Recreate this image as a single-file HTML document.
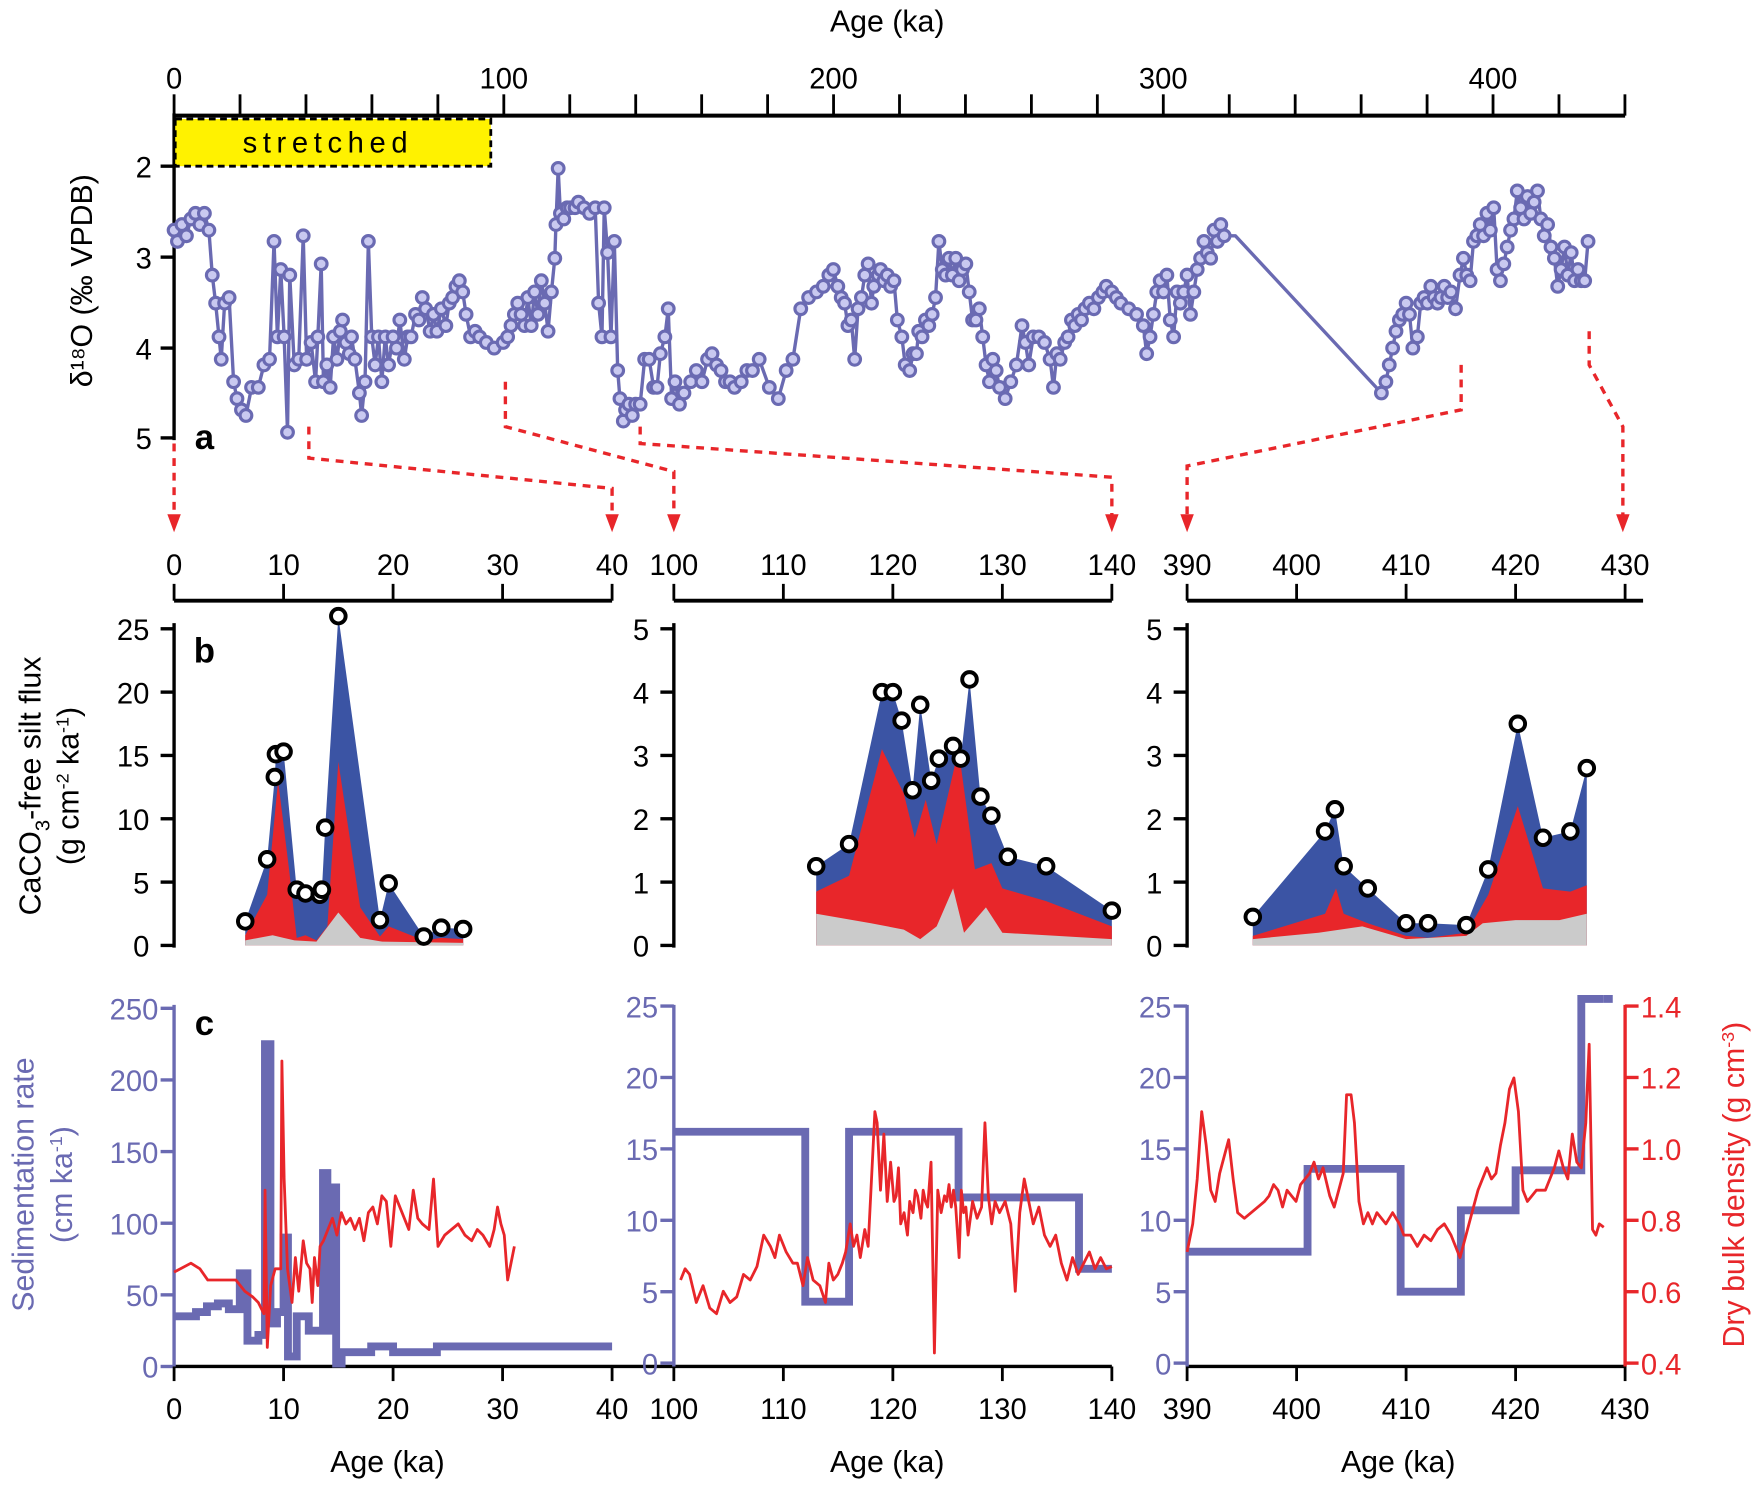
<!DOCTYPE html>
<html><head><meta charset="utf-8"><style>
html,body{margin:0;padding:0;background:#fff;}
svg{display:block;font-family:"Liberation Sans",sans-serif;}
</style></head><body>
<svg id="s" width="1761" height="1490" viewBox="0 0 1568 1327" preserveAspectRatio="none" xmlns="http://www.w3.org/2000/svg">
<rect x="0" y="0" width="1568" height="1327" fill="#fff"/>
<g id="g"></g>
</svg>
<script>
const NS="http://www.w3.org/2000/svg";const G=document.getElementById('g');
function el(t,a,txt){const e=document.createElementNS(NS,t);for(const k in a)e.setAttribute(k,a[k]);if(txt!==undefined)e.textContent=txt;G.appendChild(e);return e;}
function line(x1,y1,x2,y2,c,w,extra){return el('line',Object.assign({x1,y1,x2,y2,stroke:c,'stroke-width':w},extra||{}));}
function text(x,y,s,o){return el('text',Object.assign({x,y,'font-size':26,fill:'#000','text-anchor':'middle'},o||{}),s);}
function pl(pts,c,w,extra){return el('polyline',Object.assign({points:pts.map(p=>p.join(',')).join(' '),fill:'none',stroke:c,'stroke-width':w,'stroke-linejoin':'round'},extra||{}));}
function pg(pts,c){return el('polygon',{points:pts.map(p=>p.join(',')).join(' '),fill:c,stroke:'none'});}
const BLUE='#6a6ab2', RED='#e8262a';

// ===== Panel a =====
text(790,28,'Age (ka)',{'font-size':27});
line(155,103,1447,103,'#000',3.5);
for(let a=0;a<=440;a+=20){const x=155+2.936*a;line(x,84,x,103,'#000',2.5);}
[0,100,200,300,400].forEach(a=>text(155+2.936*a,79,String(a)));
line(155,101,155,392,'#000',3);
[[2,148],[3,229],[4,310],[5,390]].forEach(([v,y])=>{line(143,y,155,y,'#000',3);text(128,y+10,String(v),{'text-anchor':'middle'});});
el('rect',{x:156,y:106,width:281,height:42,fill:'#fff200',stroke:'#000','stroke-width':2.5,'stroke-dasharray':'6,4'});
text(292,136,'stretched',{'font-size':26,'letter-spacing':'5'});
text(182,400,'a',{'font-size':31,'font-weight':'bold'});
el('text',{x:0,y:0,'font-size':27,'text-anchor':'middle',transform:'translate(82,250) rotate(-90)'},'δ¹⁸O (‰ VPDB)');

const d18=`155,205 158,215 162,200 166,210 170,195 174,190 178,200 182,190 186,205 189,245 192,270 195,300 197,320 200,270 204,265 208,340 211,355 215,365 219,370 224,345 230,345 235,325 240,320 244,215 247,300 250,240 253,300 256,385 258,245 262,325 266,320 270,210 273,320 277,305 281,340 283,300 286,235 288,340 291,325 294,345 297,300 300,320 303,295 305,285 308,305 311,315 313,300 316,320 320,350 322,370 325,340 328,215 331,300 334,325 337,300 340,340 343,300 346,325 350,300 353,310 356,285 360,320 363,300 366,300 370,280 373,285 376,265 379,275 383,295 386,280 389,295 393,275 397,290 400,270 403,265 406,255 409,250 412,260 415,280 419,300 423,295 427,300 433,305 440,310 448,305 452,300 455,290 458,280 461,270 464,280 467,290 470,265 473,290 476,260 479,280 482,250 485,270 488,295 491,260 494,230 495,200 497,150 499,190 502,195 505,185 508,185 512,185 515,180 520,185 525,190 530,185 533,270 536,300 538,185 541,225 544,300 547,215 550,330 552,355 555,375 557,365 560,360 563,370 566,360 570,360 574,320 578,320 582,345 585,345 588,315 592,300 595,275 598,355 601,340 605,360 609,350 615,340 620,330 625,340 630,320 634,315 638,325 642,330 646,340 650,340 654,345 660,340 665,330 670,330 676,320 685,345 693,355 700,330 706,320 713,275 720,265 727,260 733,255 738,245 742,240 746,255 749,265 752,270 755,290 758,285 761,320 764,275 767,265 770,245 773,235 776,270 778,255 782,245 784,240 787,250 790,245 793,255 796,250 799,285 803,300 806,325 810,330 813,315 816,315 818,295 821,300 824,285 827,290 830,280 833,265 836,215 839,240 842,245 845,230 848,245 851,230 854,250 857,240 860,235 863,260 866,285 869,285 872,275 875,300 878,325 881,340 884,320 887,330 890,345 895,355 900,340 905,325 910,290 913,305 916,325 920,300 925,300 930,305 935,320 938,345 941,315 944,320 948,305 951,300 954,285 957,290 960,280 963,285 966,275 970,270 974,275 978,265 982,260 985,255 990,260 994,265 998,270 1005,275 1012,280 1018,290 1021,315 1024,300 1027,280 1030,260 1033,250 1036,260 1039,245 1042,285 1045,300 1048,260 1051,270 1054,260 1057,245 1060,280 1063,260 1066,240 1069,230 1072,215 1075,225 1078,230 1081,205 1084,215 1087,200 1090,210 1100,210 1230,350 1234,340 1237,325 1240,310 1243,295 1246,285 1249,280 1252,270 1255,280 1258,310 1262,300 1265,270 1268,265 1271,270 1274,255 1277,265 1280,270 1283,265 1286,255 1289,265 1292,260 1296,275 1300,245 1303,230 1306,245 1309,250 1312,215 1315,210 1318,200 1321,210 1324,190 1327,205 1330,185 1333,240 1336,250 1339,235 1342,220 1345,205 1348,195 1351,170 1354,185 1357,195 1360,175 1363,190 1366,180 1369,170 1372,195 1375,210 1378,200 1381,220 1384,230 1387,255 1390,240 1393,220 1396,245 1399,225 1402,250 1405,240 1408,250 1411,250 1414,215`.split(' ').map(s=>s.split(',').map(Number));
pl(d18,BLUE,3);
d18.forEach(([x,y])=>{if(x==1100&&y==210)return;el('circle',{cx:x,cy:y,r:5.2,fill:'#c9c9f0',stroke:BLUE,'stroke-width':2.8});});

const dash={'stroke-dasharray':'7,6',fill:'none',stroke:RED,'stroke-width':3};
[[[155,395],[155,462]],[[275,380],[275,408],[545,435],[545,462]],[[450,340],[450,380],[600,420],[600,462]],[[570,380],[570,395],[990,425],[990,462]],[[1301,325],[1301,365],[1057,415],[1057,462]],[[1415,295],[1415,325],[1445,380],[1445,462]]].forEach(p=>{
 el('polyline',Object.assign({points:p.map(q=>q.join(',')).join(' ')},dash));
 const [x,y]=p[p.length-1];el('polygon',{points:`${x-6},${y-4} ${x+6},${y-4} ${x},${y+12}`,fill:RED});
});

const segs=[{x0:155,a0:0},{x0:600,a0:100},{x0:1057,a0:390}];
const X=(s,a)=>segs[s].x0+9.75*(a-segs[s].a0);

segs.forEach((s,i)=>{
 const xe=i==2?1463:X(i,s.a0+40);
 line(s.x0,535,xe,535,'#000',3.5);
 for(let k=0;k<=40;k+=10){const x=X(i,s.a0+k);line(x,520,x,535,'#000',2.5);text(x,512,String(s.a0+k));}
});

const bY0=842;
const bScale=[11.28,56.4,56.4];
const Yb=(s,v)=>bY0-bScale[s]*v;
segs.forEach((s,i)=>{
 line(s.x0,555,s.x0,bY0+2,'#000',3);
 const mx=i==0?25:5,st=i==0?5:1;
 for(let v=0;v<=mx;v+=st){const y=Yb(i,v);line(s.x0-12,y,s.x0,y,'#000',3);text(s.x0-22,y+10,String(v),{'text-anchor':'end'});}
});
text(182,590,'b',{'font-size':31,'font-weight':'bold'});
el('text',{x:0,y:0,'font-size':27,'text-anchor':'middle',transform:'translate(36,700) rotate(-90)'}).innerHTML='CaCO<tspan font-size="18" dy="8">3</tspan><tspan dy="-8">-free silt flux</tspan>';
el('text',{x:0,y:0,'font-size':27,'text-anchor':'middle',transform:'translate(70,700) rotate(-90)'}).innerHTML='(g cm<tspan font-size="16" dy="-9">-2</tspan><tspan dy="9"> ka</tspan><tspan font-size="16" dy="-9">-1</tspan><tspan dy="9">)</tspan>';

function area(s,pts,col){const p=pts.map(([a,v])=>[X(s,a),Yb(s,v)]);p.push([X(s,pts[pts.length-1][0]),bY0]);p.unshift([X(s,pts[0][0]),bY0]);pg(p,col);}
const c1=[[6.5,1.9],[8.5,6.8],[9.2,13.3],[9.3,15.1],[10,15.3],[11.2,4.4],[12,4.1],[13.3,4.0],[13.5,4.4],[13.8,9.3],[15,26],[18.8,2.0],[19.6,4.9],[22.8,0.7],[24.4,1.4],[26.4,1.3]];
area(0,c1,'#3b54a4');
area(0,[[6.5,0.8],[8.5,4],[9.5,13],[10.5,6],[11.2,0.6],[12,0.8],[13,0.4],[14,1.5],[15,14.5],[17,3],[18.8,0.7],[19.6,1.5],[22.8,0.4],[24.4,0.6],[26.4,0.5]],RED);
area(0,[[6.5,0.4],[9,0.8],[10,0.6],[11,0.4],[13,0.3],[15,2.6],[17,0.6],[19,0.3],[26.4,0.2]],'#cbcbcb');
const c2=[[113,1.25],[116,1.6],[119,4.0],[120,4.0],[120.8,3.55],[121.8,2.45],[122.5,3.8],[123.5,2.6],[124.2,2.95],[125.5,3.15],[126.2,2.95],[127,4.2],[128,2.35],[129,2.05],[130.5,1.4],[134,1.25],[140,0.55]];
area(1,c2,'#3b54a4');
area(1,[[113,0.85],[116,1.1],[119,3.1],[121,2.4],[122,1.7],[123,2.3],[124,1.6],[126,3.1],[127.5,1.2],[129,1.3],[130,0.9],[134,0.7],[140,0.3]],RED);
area(1,[[113,0.5],[118,0.35],[121,0.25],[122.5,0.1],[124,0.3],[125.5,0.9],[126.5,0.2],[128.5,0.6],[130,0.2],[135,0.15],[140,0.1]],'#cbcbcb');
const c3=[[396,0.45],[402.6,1.8],[403.5,2.15],[404.3,1.25],[406.5,0.9],[410,0.35],[412,0.35],[415.5,0.32],[417.5,1.2],[420.2,3.5],[422.5,1.7],[425,1.8],[426.5,2.8]];
area(2,c3,'#3b54a4');
area(2,[[396,0.15],[402.6,0.5],[403.6,0.9],[404.3,0.5],[406.5,0.35],[410,0.15],[412,0.12],[415.5,0.2],[417.5,0.8],[420.2,2.2],[422.5,0.9],[425,0.85],[426.5,0.95]],RED);
area(2,[[396,0.1],[402,0.2],[406,0.3],[410,0.1],[415.5,0.15],[417,0.35],[420,0.4],[424,0.4],[426.5,0.5]],'#cbcbcb');
[[0,c1],[1,c2],[2,c3]].forEach(([s,c])=>c.forEach(([a,v])=>el('circle',{cx:X(s,a),cy:Yb(s,v),r:6.5,fill:'#fff',stroke:'#000','stroke-width':3.5})));

const Yc0=[1217,1214,1214],cS=[1.276,12.72,12.72];
const Yc=(s,v)=>Yc0[s]-cS[s]*v;
line(155,1217,990,1217,'#000',3);line(1057,1217,1447,1217,'#000',3);
segs.forEach((s,i)=>{
 line(s.x0,895,s.x0,1217,BLUE,3);
 const mx=i==0?250:25,st=i==0?50:5;
 for(let v=0;v<=mx;v+=st){const y=Yc(i,v);line(s.x0-12,y,s.x0,y,BLUE,3);text(s.x0-14,y+10,String(v),{'text-anchor':'end',fill:BLUE});}
 for(let k=0;k<=40;k+=10){const x=X(i,s.a0+k);line(x,1217,x,1230,'#000',2.5);text(x,1264,String(s.a0+k));}
});
[345,790,1245].forEach(x=>text(x,1311,'Age (ka)',{'font-size':27}));
line(1447,895,1447,1217,RED,3);
for(let d=0.4;d<=1.41;d+=0.2){const y=1214-(d-0.4)*318;line(1447,y,1459,y,RED,3);text(1461,y+10,d.toFixed(1),{'text-anchor':'start',fill:RED});}
text(182,922,'c',{'font-size':31,'font-weight':'bold'});
el('text',{x:0,y:0,'font-size':27,'text-anchor':'middle',fill:BLUE,transform:'translate(30,1055) rotate(-90)'},'Sedimentation rate');
el('text',{x:0,y:0,'font-size':27,'text-anchor':'middle',fill:BLUE,transform:'translate(64,1055) rotate(-90)'}).innerHTML='(cm ka<tspan font-size="16" dy="-9">-1</tspan><tspan dy="9">)</tspan>';
el('text',{x:0,y:0,'font-size':27,'text-anchor':'middle',fill:RED,transform:'translate(1553,1055) rotate(-90)'}).innerHTML='Dry bulk density  (g cm<tspan font-size="16" dy="-9">-3</tspan><tspan dy="9">)</tspan>';

function steps(s,arr){const p=[];arr.forEach(([a1,a2,v])=>{p.push([X(s,a1),Yc(s,v)]);p.push([X(s,a2),Yc(s,v)]);});pl(p,BLUE,7,{'stroke-linejoin':'miter'});}
steps(0,[[0,2,35],[2,3,38],[3,4,42],[4,5,44],[5,6,40],[6,6.7,65],[6.7,7.7,18],[7.7,8.3,22],[8.3,8.8,225],[8.8,9.4,30],[9.4,10,38],[10,10.4,90],[10.4,11.2,7],[11.2,12.3,35],[12.3,13.6,25],[13.6,14,135],[14,14.4,25],[14.4,14.8,125],[14.8,15.3,2],[15.3,18,10],[18,20,14],[20,23,10],[23,24,10],[24,31,14],[31,40,14]]);
steps(1,[[100,112,16.2],[112,116,4.3],[116,126,16.2],[126,137,11.6],[137,140,6.6]]);
steps(2,[[390,401,7.8],[401,409.5,13.6],[409.5,415,5],[415,420,10.7],[420,426,13.5],[426,428,25.5]]);
pl([[X(2,428),Yc(2,25.5)],[1436,Yc(2,25.5)]],BLUE,7);

const P=s=>s.split(' ').map(t=>t.split(',').map(Number));
pl(P('155,1133 170,1125 178,1130 185,1140 200,1140 210,1140 218,1150 225,1155 230,1160 235,1170 236,1060 238,1200 241,1145 245,1130 250,1130 251,945 253,1050 256,1130 260,1160 263,1120 266,1150 270,1105 273,1125 276,1130 278,1160 280,1120 283,1145 285,1110 288,1105 292,1095 296,1085 300,1100 304,1080 308,1090 312,1085 316,1095 320,1085 324,1105 328,1080 332,1075 336,1090 340,1065 344,1070 348,1110 352,1065 356,1075 360,1085 364,1095 368,1060 372,1085 376,1090 382,1095 386,1050 390,1110 396,1100 402,1095 408,1090 414,1100 420,1105 425,1095 430,1100 436,1110 440,1095 443,1075 446,1090 449,1100 452,1140 455,1125 458,1110'),RED,2.5);
pl(P('606,1140 610,1130 614,1135 620,1160 626,1145 632,1165 638,1170 644,1150 650,1160 656,1155 662,1135 668,1140 674,1128 680,1100 686,1110 690,1120 694,1100 700,1115 706,1125 710,1125 715,1145 719,1120 724,1140 730,1145 735,1160 738,1125 742,1140 746,1135 750,1125 753,1115 757,1090 760,1110 763,1100 766,1120 770,1095 773,1110 776,1050 779,990 781,1000 784,1060 787,1010 790,1070 793,1035 796,1070 798,1065 800,1040 802,1090 805,1080 808,1100 810,1070 813,1080 815,1060 817,1065 820,1085 822,1060 824,1070 826,1075 829,1035 832,1205 835,1060 838,1080 841,1065 843,1070 845,1055 847,1075 849,1060 851,1075 854,1120 856,1060 858,1080 860,1075 862,1100 866,1070 870,1085 874,1075 877,1000 880,1065 883,1090 886,1070 890,1080 895,1070 900,1090 904,1150 908,1080 912,1050 916,1070 920,1090 925,1075 930,1100 935,1110 940,1100 945,1125 950,1140 955,1120 960,1135 965,1125 970,1115 975,1130 980,1120 985,1130 990,1128'),RED,2.5);
pl(P('1057,1115 1062,1090 1066,1050 1070,990 1074,1020 1078,1060 1082,1070 1086,1045 1090,1030 1094,1015 1098,1050 1102,1080 1108,1085 1114,1080 1120,1075 1126,1070 1130,1065 1134,1055 1138,1060 1142,1075 1146,1060 1150,1065 1154,1070 1158,1055 1162,1050 1166,1045 1170,1035 1174,1050 1178,1040 1184,1065 1188,1075 1192,1060 1196,1045 1199,975 1203,975 1206,1000 1210,1070 1214,1090 1218,1080 1222,1090 1226,1080 1230,1085 1234,1090 1240,1080 1246,1090 1250,1100 1256,1100 1262,1110 1268,1100 1274,1105 1280,1095 1286,1090 1292,1100 1296,1110 1300,1120 1304,1105 1308,1090 1312,1075 1316,1060 1320,1050 1324,1040 1328,1050 1332,1045 1336,1020 1340,1000 1344,970 1348,960 1352,990 1356,1060 1360,1070 1364,1065 1368,1060 1372,1060 1376,1060 1380,1050 1384,1040 1388,1025 1392,1040 1396,1050 1400,1010 1404,1035 1408,1040 1412,1000 1415,930 1418,1095 1421,1100 1424,1090 1428,1093'),RED,2.5);
</script>
</body></html>
